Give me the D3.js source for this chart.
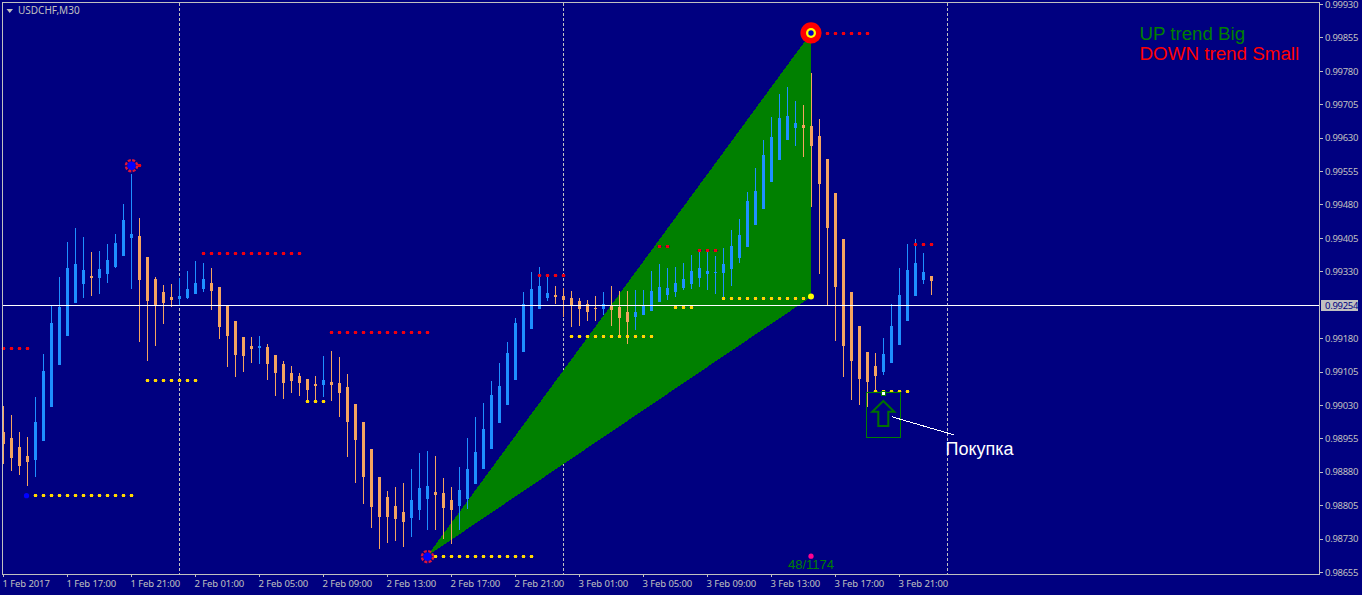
<!DOCTYPE html>
<html><head><meta charset="utf-8">
<script src="https://cdn.jsdelivr.net/npm/d3@7"></script>
<style>html,body{margin:0;padding:0;background:#000080;overflow:hidden}svg{display:block}</style>
</head><body><svg id="c" width="1362" height="595"></svg>
<script>
// Prices are in points (1e-5)
const opens=[98969,98955,98935,98915,98906,98949,99025,99119,99185,99258,
99301,99320,99315,99324,99339,99365,99404,99409,99362,99313,
99284,99272,99268,99270,99279,99290,99303,99294,99252,99218,
99182,99162,99157,99159,99142,99121,99101,99095,99088,99077,
99075,99081,99079,99070,99032,98992,98931,98867,98822,98803,
98789,98776,98794,98818,98834,98832,98816,98803,98818,98852,
98886,98931,98990,99030,99086,99149,99200,99245,99270,99277,
99275,99270,99263,99256,99247,99245,99252,99249,99238,99227,
99232,99241,99261,99277,99284,99292,99301,99315,99324,99326,
99326,99335,99360,99384,99434,99470,99530,99580,99625,99652,
99658,99656,99634,99582,99505,99402,99284,99207,99149,99117,
99104,99123,99164,99218,99275,99310,99320];
const highs=[99028,99007,98969,98957,99047,99144,99252,99317,99396,99427,
99406,99374,99376,99391,99413,99481,99548,99449,99362,99317,
99299,99301,99315,99331,99353,99348,99337,99294,99252,99218,
99182,99182,99185,99166,99142,99128,99117,99101,99088,99095,
99140,99151,99137,99099,99032,98992,98931,98867,98836,98845,
98854,98885,98921,98926,98915,98865,98845,98890,98955,99002,
99034,99084,99123,99171,99225,99284,99328,99339,99321,99297,
99292,99286,99270,99265,99275,99284,99297,99286,99286,99288,
99288,99331,99346,99337,99339,99348,99366,99378,99378,99365,
99382,99422,99447,99508,99562,99625,99676,99728,99743,99712,
99703,99775,99672,99582,99505,99402,99284,99207,99149,99146,
99180,99256,99337,99391,99402,99371,99320];
const lows=[98897,98881,98872,98848,98867,98949,99025,99119,99185,99258,
99270,99275,99279,99303,99337,99365,99290,99171,99128,99162,
99211,99249,99254,99268,99279,99284,99243,99178,99114,99092,
99104,99123,99121,99086,99050,99043,99056,99050,99036,99041,
99047,99038,99002,98912,98854,98807,98753,98706,98719,98724,
98710,98733,98771,98749,98749,98728,98717,98749,98796,98852,
98886,98931,98990,99030,99086,99149,99200,99245,99263,99256,
99227,99204,99207,99218,99218,99232,99207,99185,99166,99198,
99232,99241,99261,99265,99272,99288,99290,99294,99288,99279,
99270,99297,99348,99384,99434,99470,99530,99580,99625,99611,
99586,99474,99324,99252,99173,99092,99041,99030,99025,99059,
99097,99123,99164,99218,99275,99301,99277];
const closes=[98942,98910,98893,98902,98992,99106,99213,99249,99337,99346,
99333,99315,99335,99355,99393,99445,99413,99310,99263,99252,
99258,99265,99275,99290,99303,99313,99286,99204,99185,99142,
99140,99155,99162,99121,99101,99079,99084,99079,99063,99072,
99086,99075,99056,98992,98951,98867,98800,98778,98778,98773,
98767,98816,98843,98848,98827,98798,98794,98838,98886,98924,
98975,99052,99072,99146,99213,99256,99290,99297,99281,99272,
99265,99254,99245,99238,99245,99256,99243,99225,99216,99238,
99252,99286,99294,99292,99303,99313,99331,99337,99331,99328,
99346,99387,99411,99488,99510,99591,99631,99674,99679,99663,
99652,99611,99526,99427,99294,99162,99128,99088,99081,99095,
99144,99207,99277,99333,99348,99328,99308];

const redPrice=[99157,99370,99193,99321,99386,99377,99864,99390,99568];
const redFrom=[0,25,41,67,82,87,103,114,17];
const redTo=[3,37,53,70,83,89,108,116,17];
const yellowPrice=[99085,98827,99038,98690,99184,99249,99269,99060];
const yellowFrom=[18,4,38,54,71,84,90,109];
const yellowTo=[24,16,40,66,81,86,100,113];

const wedgeBars=[53,101,101];
const wedgePrices=[98690,99865,99272];

const xTickBars=[0,8,16,24,32,40,48,56,64,72,80,88,96,104,112];
const xTickLabels=["1 Feb 2017","1 Feb 17:00","1 Feb 21:00","2 Feb 01:00","2 Feb 05:00","2 Feb 09:00","2 Feb 13:00","2 Feb 17:00","2 Feb 21:00","3 Feb 01:00","3 Feb 05:00","3 Feb 09:00","3 Feb 13:00","3 Feb 17:00","3 Feb 21:00"];
const yTicks=[99930,99855,99780,99705,99630,99555,99480,99405,99330,99180,99105,99030,98955,98880,98805,98730,98655];
const daySeparatorBars=[22,70,118];
const bidPrice=99254;

const AXIS="#c0c0c0",UP="#1e90ff",DOWN="#f4a460",GREEN="#008000";
const AXFONT='"Noto Sans",sans-serif', LABFONT='"Liberation Sans",Arial,sans-serif';
const AXSIZE=9.5, AXSPACE=-0.3;

const svg=d3.select("#c");
const x=d3.scaleLinear().domain([0,116]).range([3.5,931.5]);
const y=d3.scaleLinear().domain([98655,99930]).range([571.75,4]);
const py=p=>Math.round(y(p));

svg.append("rect").attr("width",1362).attr("height",595).attr("fill","#000080");

// day separators
svg.append("g").selectAll("line").data(daySeparatorBars).join("line")
 .attr("x1",d=>x(d)).attr("x2",d=>x(d)).attr("y1",3).attr("y2",574)
 .attr("stroke",AXIS).attr("stroke-dasharray","3 2");

// wedge
svg.append("polygon").attr("fill",GREEN).attr("shape-rendering","crispEdges")
 .attr("points",wedgeBars.map((b,i)=>[x(b)-0.5,y(wedgePrices[i])].join(",")).join(" "));

// candles
const bars=d3.range(opens.length);
const col=i=>closes[i]>=opens[i]?UP:DOWN;
const cg=svg.append("g").attr("shape-rendering","crispEdges");
cg.selectAll(".w").data(bars).join("rect").attr("class","w")
 .attr("x",i=>x(i)-0.5).attr("width",1)
 .attr("y",i=>py(highs[i])).attr("height",i=>Math.max(1,py(lows[i])-py(highs[i])))
 .attr("fill",col);
cg.selectAll(".b").data(bars).join("rect").attr("class","b")
 .attr("x",i=>x(i)-1.5).attr("width",3)
 .attr("y",i=>py(Math.max(opens[i],closes[i])))
 .attr("height",i=>Math.max(1,py(Math.min(opens[i],closes[i]))-py(Math.max(opens[i],closes[i]))))
 .attr("fill",col);

// bid line
svg.append("line").attr("x1",3).attr("x2",1319).attr("y1",py(bidPrice)+0.5).attr("y2",py(bidPrice)+0.5).attr("stroke","#fff");

// level dots
function dots(prices,from,to,core,tail){
 const pts=[];prices.forEach((p,k)=>{for(let b=from[k];b<=to[k];b++)pts.push([b,p]);});
 const g=svg.append("g").attr("shape-rendering","crispEdges");
 g.selectAll(".t").data(pts).join("rect").attr("class","t")
  .attr("x",d=>x(d[0])-2.5).attr("y",d=>py(d[1])).attr("width",5).attr("height",1).attr("fill",tail);
 g.selectAll(".c").data(pts).join("rect").attr("class","c")
  .attr("x",d=>x(d[0])-1.5).attr("y",d=>py(d[1])-1).attr("width",3).attr("height",3).attr("fill",core);
}
dots(redPrice,redFrom,redTo,"#f00010","#400060");
dots(yellowPrice,yellowFrom,yellowTo,"#ffd800","#504060");

// pivot markers
const gear=(b,p)=>{
 svg.append("circle").attr("cx",x(b)).attr("cy",y(p)+0.5).attr("r",4.2).attr("fill","#0000ff");
 svg.append("circle").attr("cx",x(b)).attr("cy",y(p)+0.5).attr("r",5.6).attr("fill","none").attr("stroke","#dc143c").attr("stroke-width",2.4).attr("stroke-dasharray","3 1.4");
};
gear(16,99568);gear(53,98690);
svg.append("circle").attr("cx",x(3)-1).attr("cy",y(98827)+0.5).attr("r",2.6).attr("fill","#0000ff");
const tx=x(101)-0.5,ty=y(99865);
[[10.6,"#ff0000"],[5,"#ffff00"],[2.7,"#0000c8"]].forEach(d=>svg.append("circle").attr("cx",tx).attr("cy",ty).attr("r",d[0]).attr("fill",d[1]));
svg.append("circle").attr("cx",tx).attr("cy",y(99272)-0.5).attr("r",3).attr("fill","#ffff00");
svg.append("circle").attr("cx",tx).attr("cy",y(98690)).attr("r",2.6).attr("fill","#ff0090");

// frame
svg.append("rect").attr("x",2.5).attr("y",2.5).attr("width",1317).attr("height",572).attr("fill","none").attr("stroke",AXIS);

// axes
const xAxis=d3.axisBottom(x).tickValues(xTickBars).tickSize(3).tickSizeOuter(0).offset(0)
 .tickFormat((d,i)=>xTickLabels[i]);
const gx=svg.append("g").attr("transform","translate(0,574)").call(xAxis);
gx.select(".domain").remove();
gx.selectAll("line").attr("stroke",AXIS).attr("shape-rendering","crispEdges");
gx.selectAll("text").attr("fill",AXIS).attr("text-anchor","start").attr("dx",-1).attr("y",6).attr("dy","0.71em").attr("font-family",AXFONT).attr("font-size",AXSIZE).attr("letter-spacing",-0.1);

const yAxis=d3.axisRight(d3.scaleLinear().domain(y.domain()).range(y.range().map(Math.round))).tickValues(yTicks).tickSize(3).tickSizeOuter(0).offset(0.5)
 .tickFormat(d=>(d/1e5).toFixed(5));
const gy=svg.append("g").attr("transform","translate(1319.5,0)").call(yAxis);
gy.select(".domain").remove();
gy.selectAll("line").attr("stroke",AXIS).attr("shape-rendering","crispEdges");
gy.selectAll("text").attr("fill",AXIS).attr("x",5.5).attr("dy","0.34em").attr("font-family",AXFONT).attr("font-size",AXSIZE).attr("letter-spacing",AXSPACE);

// bid label
svg.append("rect").attr("x",1321).attr("y",py(bidPrice)-5).attr("width",37).attr("height",11).attr("fill",AXIS);
svg.append("text").attr("x",1325).attr("y",py(bidPrice)+0.5).attr("dy","0.34em").attr("fill","#000080").attr("font-family",AXFONT).attr("font-size",AXSIZE).attr("letter-spacing",AXSPACE).text((bidPrice/1e5).toFixed(5));

// title
svg.append("path").attr("d","M6.5 9H13L9.75 13Z").attr("fill",AXIS);
svg.append("text").attr("x",18).attr("y",14).attr("fill",AXIS).attr("font-family",AXFONT).attr("font-size",10).text("USDCHF,M30");

// legend
svg.append("text").attr("x",1139.5).attr("y",39.5).attr("fill",GREEN).attr("font-family",LABFONT).attr("font-size",18.7).text("UP trend Big");
svg.append("text").attr("x",1139.5).attr("y",60).attr("fill","#ff0000").attr("font-family",LABFONT).attr("font-size",18.8).text("DOWN trend Small");
svg.append("text").attr("x",788).attr("y",569).attr("fill",GREEN).attr("font-family",LABFONT).attr("font-size",13).text("48/1174");

// buy annotation
svg.append("rect").attr("x",866.5).attr("y",392.5).attr("width",34).attr("height",45).attr("fill","none").attr("stroke",GREEN);
svg.append("path").attr("d","M883.3 401L872.3 411.7H878.3V426H888.3V411.7H894.3Z").attr("fill","none").attr("stroke","#007000").attr("stroke-width",2);
svg.append("rect").attr("x",881.5).attr("y",391.5).attr("width",4).attr("height",4).attr("fill","#fff").attr("stroke",GREEN);
svg.append("line").attr("x1",891.7).attr("y1",416.7).attr("x2",954.3).attr("y2",435).attr("stroke","#fff").attr("shape-rendering","crispEdges");
svg.append("text").attr("x",945.5).attr("y",455).attr("fill","#fff").attr("font-family",LABFONT).attr("font-size",18).text("Покупка");
</script></body></html>
